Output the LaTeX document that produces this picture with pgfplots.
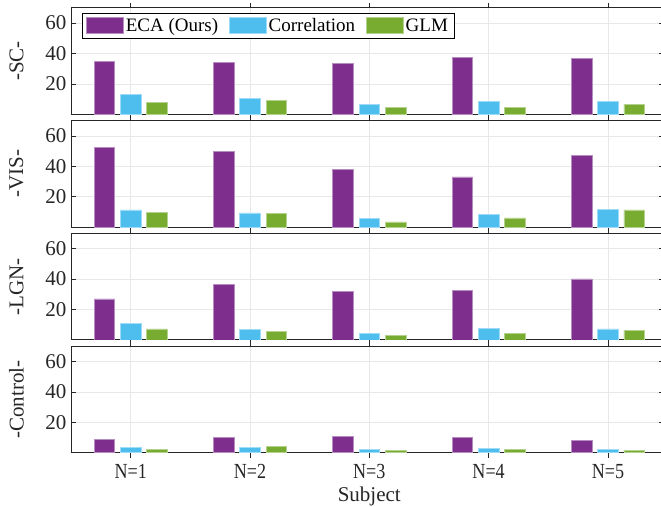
\documentclass[border=0pt]{standalone}
\usepackage{pgfplots}
\pgfplotsset{compat=1.18}
\usepackage{fontspec}
\setmainfont{Liberation Serif}
\newfontfamily\condfont[FakeStretch=0.84]{Liberation Serif}
\definecolor{cECA}{RGB}{126,47,142}
\definecolor{cCor}{RGB}{77,190,238}
\definecolor{cGLM}{RGB}{119,172,48}
\definecolor{axgray}{RGB}{38,38,38}

\pgfplotsset{
  panel/.style={
    scale only axis, width=593pt, height=106.4pt,
    xmin=0.5, xmax=5.47, ymin=0, ymax=70,
    xtick={1,2,3,4,5}, ytick={20,40,60},
    xticklabels={},
    tick align=inside, tick pos=both,
    major tick length=5pt,
    grid=major, major grid style={black!9, line width=0.5pt},
    axis line style={axgray, line width=0.8pt},
    tick style={axgray, line width=0.6pt},
    yticklabel style={font=\fontsize{21}{21}\selectfont, text=axgray, xshift=-1pt},
    /pgf/number format/assume math mode=true,
    ybar=5.8pt, bar width=20.5pt,
    ylabel style={at={(axis description cs:-0.092,0.5)}, anchor=center,
      font=\fontsize{21}{21}\selectfont, text=axgray},
  },
  bl/.style={legend image code/.code={\fill[##1] (0pt,-8pt) rectangle (37pt,8pt);}},
  sECA/.style={fill=cECA, draw=cECA!55!white, line width=0.5pt, bl},
  sCor/.style={fill=cCor, draw=cCor!55!white, line width=0.5pt, bl},
  sGLM/.style={fill=cGLM, draw=cGLM!55!white, line width=0.5pt, bl},
}

\begin{document}
\begin{tikzpicture}
\useasboundingbox (0,0) rectangle (661pt,506pt);

% SC
\begin{axis}[panel, at={(71pt,391.7pt)}, anchor=south west, ylabel={-SC-},
  legend style={at={(rel axis cs:0.0186,0.953)}, anchor=north west,
    legend columns=-1, draw=black, line width=0.6pt,
    font=\fontsize{19}{19}\selectfont, inner xsep=4pt, inner ysep=3pt,
    /tikz/every even column/.style={column sep=9pt}}]
\addplot[sECA] coordinates {(1,35.0) (2,34.3) (3,33.7) (4,37.6) (5,36.7)};
\addplot[sCor] coordinates {(1,13.0) (2,10.4) (3,6.5) (4,8.3) (5,8.7)};
\addplot[sGLM] coordinates {(1,8.0) (2,9.1) (3,4.6) (4,4.6) (5,6.7)};
\legend{ECA (Ours),Correlation,GLM}
\end{axis}

% VIS
\begin{axis}[panel, at={(71pt,278.9pt)}, anchor=south west, ylabel={-VIS-}]
\addplot[sECA] coordinates {(1,52.6) (2,49.8) (3,38.0) (4,33.0) (5,47.2)};
\addplot[sCor] coordinates {(1,11.4) (2,9.4) (3,5.5) (4,8.5) (5,11.8)};
\addplot[sGLM] coordinates {(1,9.8) (2,9.2) (3,3.5) (4,6.1) (5,11.4)};
\end{axis}

% LGN
\begin{axis}[panel, at={(71pt,166.1pt)}, anchor=south west, ylabel={-LGN-}]
\addplot[sECA] coordinates {(1,27.0) (2,36.7) (3,31.7) (4,32.4) (5,40.2)};
\addplot[sCor] coordinates {(1,11.1) (2,6.7) (3,4.3) (4,7.6) (5,7.2)};
\addplot[sGLM] coordinates {(1,7.2) (2,5.4) (3,2.8) (4,4.3) (5,6.5)};
\end{axis}

% Control
\begin{axis}[panel, at={(71pt,53.3pt)}, anchor=south west, ylabel={-Control-},
  xticklabels={N=1,N=2,N=3,N=4,N=5},
  xticklabel style={font=\condfont\fontsize{21.5}{21.5}\selectfont, text=axgray, yshift=-3.5pt},
  xlabel={Subject},
  xlabel style={at={(axis description cs:0.503,-0.41)}, anchor=center,
    font=\fontsize{21}{21}\selectfont, text=axgray}]
\addplot[sECA] coordinates {(1,8.9) (2,10.0) (3,10.9) (4,10.0) (5,8.3)};
\addplot[sCor] coordinates {(1,3.7) (2,3.7) (3,2.4) (4,3.0) (5,2.2)};
\addplot[sGLM] coordinates {(1,2.2) (2,4.3) (3,1.7) (4,2.0) (5,1.5)};
\end{axis}
\end{tikzpicture}
\end{document}
